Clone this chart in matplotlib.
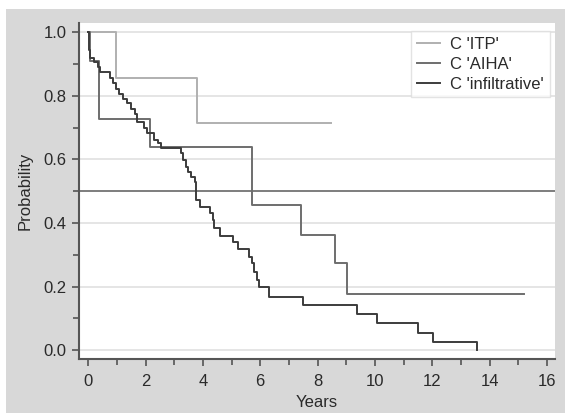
import matplotlib
matplotlib.use('Agg')
import matplotlib.pyplot as plt
from matplotlib.patches import Rectangle

plt.rcParams['font.family'] = ['Liberation Sans', 'DejaVu Sans']

# Kaplan-Meier curves (time of each step, survival after it)
itp_t = [0, 0.97, 3.78, 8.48]
itp_s = [1.0, 0.857, 0.714, 0.714]

aiha_t = [0, 0.08, 0.37, 2.14, 5.72, 7.41, 8.62, 9.01, 15.2]
aiha_s = [1.0, 0.909, 0.727, 0.640, 0.458, 0.362, 0.275, 0.178, 0.178]

infil_t = [0, 0.02, 0.04, 0.06, 0.20, 0.33, 0.41, 0.76, 0.87, 0.97, 1.07, 1.2,
           1.37, 1.5, 1.62, 1.70, 1.93, 2.05, 2.28, 2.42, 2.55, 3.22, 3.31, 3.41,
           3.49, 3.60, 3.71, 3.76, 3.90, 4.24, 4.34, 4.40, 4.58, 5.06, 5.24, 5.60,
           5.70, 5.79, 5.88, 5.96, 6.31, 7.48, 9.36, 10.06, 11.49, 12.01, 13.57]
infil_s = [1.0, 0.972, 0.944, 0.92, 0.905, 0.89, 0.874, 0.856, 0.84, 0.822, 0.806, 0.79,
           0.776, 0.76, 0.742, 0.719, 0.70, 0.682, 0.661, 0.65, 0.635, 0.619, 0.598, 0.577,
           0.561, 0.545, 0.530, 0.472, 0.451, 0.43, 0.409, 0.384, 0.359, 0.341, 0.317, 0.294,
           0.273, 0.247, 0.222, 0.197, 0.168, 0.142, 0.115, 0.084, 0.055, 0.026, 0.0]

labels = ["C 'ITP'", "C 'AIHA'", "C 'infiltrative'"]
colores = ['#b0b0b0', '#6e6e6e', '#3c3c3c']

fig = plt.figure(figsize=(5.65, 4.13), dpi=100)
fig.patch.set_facecolor('white')
# fondo gris del panel, detrás de los ejes
fondo = Rectangle((6 / 565, 0), 1, 1 - 9 / 413, transform=fig.transFigure,
                  facecolor='#d8d8d8', edgecolor='none', zorder=-10)
fig.add_artist(fondo)

ax = fig.add_axes([79 / 565, 1 - 359 / 413, 476 / 565, 336 / 413])
ax.set_zorder(5)
ax.set_facecolor('white')

for yv in [0, 0.2, 0.4, 0.6, 0.8, 1.0]:
    ax.axhline(yv, color='#e3e3e3', lw=1.3, zorder=1)
ax.axhline(0.5, color='#5a5a5a', lw=1.1, zorder=2)

ax.step(itp_t, itp_s, where='post', color=colores[0], lw=1.4, label=labels[0], zorder=3)
ax.step(aiha_t, aiha_s, where='post', color=colores[1], lw=1.4, label=labels[1], zorder=3)
ax.step(infil_t, infil_s, where='post', color=colores[2], lw=1.4, label=labels[2], zorder=4)

ax.set_xlim(-0.32, 16.28)
ax.set_ylim(-0.028, 1.029)
ax.set_xticks(range(0, 17, 2))
ax.set_xticks(range(1, 17, 2), minor=True)
ax.set_yticks([0, 0.2, 0.4, 0.6, 0.8, 1.0])
ax.set_yticks([0.1, 0.3, 0.5, 0.7, 0.9], minor=True)
ax.set_yticklabels(['0.0', '0.2', '0.4', '0.6', '0.8', '1.0'])

for s in ['top', 'right']:
    ax.spines[s].set_visible(False)
for s in ['left', 'bottom']:
    ax.spines[s].set_color('#555555')
    ax.spines[s].set_linewidth(1.5)

ax.tick_params(which='both', direction='out', color='#555555', width=1.2,
               labelsize=12, labelcolor='#2a2a2a')
ax.tick_params(which='major', length=5, pad=4)
ax.tick_params(axis='x', which='major', pad=6)
ax.tick_params(which='minor', length=4)

ax.set_xlabel('Years', fontsize=12, color='#2a2a2a', labelpad=4)
ax.set_ylabel('Probability', fontsize=12, color='#2a2a2a', labelpad=8)

leg = ax.legend(loc='upper right', bbox_to_anchor=(0.989, 0.977), borderaxespad=0,
                fancybox=False, frameon=True, fontsize=12, handlelength=1.4,
                handletextpad=0.6, borderpad=0.35, labelspacing=0.3)
leg.get_frame().set_edgecolor('#dddddd')
leg.get_frame().set_linewidth(1.0)
for t in leg.get_texts():
    t.set_color('#2a2a2a')

plt.savefig('out.png', dpi=100)
